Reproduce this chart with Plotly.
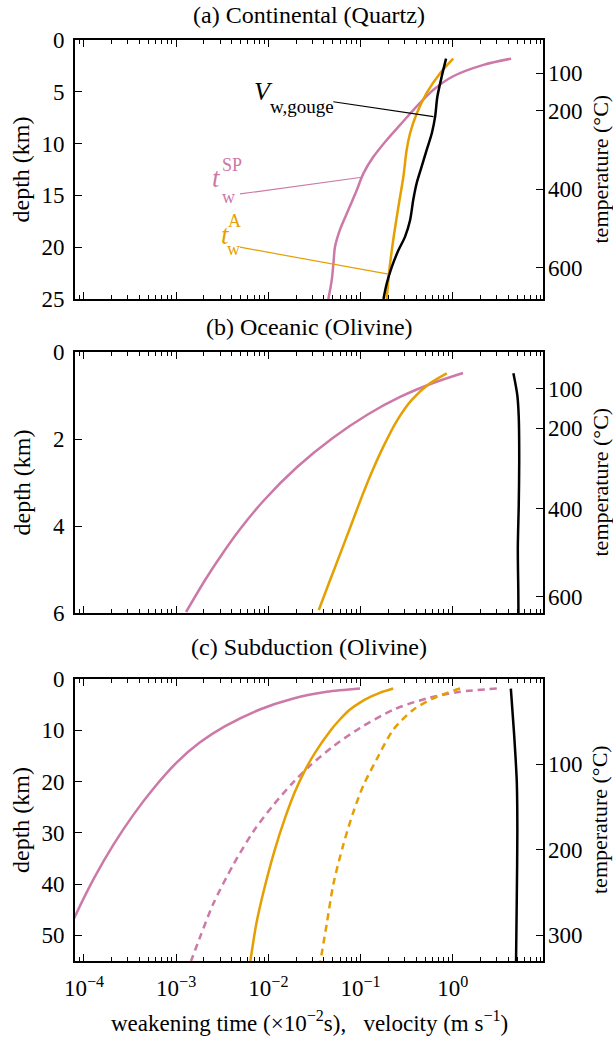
import plotly.graph_objects as go

FONT = "Liberation Serif, Times New Roman, Times, serif"
PINK = "#CC79A7"
ORANGE = "#E69F00"
BLACK = "#000000"

# ---------------- Panel (a) Continental (Quartz) ----------------
a_depth_sp = [1.8, 2.4, 3.5, 4.8, 6.4, 8.2, 9.65, 11.3, 12.9, 14.5, 16.4, 18.3, 19.95, 21.6, 23.2, 25.0]
a_tw_sp = [4.29, 2.15, 1.01, 0.617, 0.406, 0.268, 0.192, 0.137, 0.107, 0.0908, 0.0736, 0.0598, 0.0528, 0.0507, 0.0486, 0.0447]
a_depth_a = [1.8, 3.2, 5.1, 7.1, 9.0, 10.6, 13.2, 16.1, 19.3, 22.2, 25.0]
a_tw_a = [1.01, 0.728, 0.521, 0.406, 0.344, 0.316, 0.291, 0.257, 0.226, 0.205, 0.192]
a_depth_v = [1.8, 3.5, 5.5, 7.4, 9.0, 10.6, 12.2, 13.8, 15.4, 17.4, 19.0, 20.3, 21.9, 23.5, 25.0]
a_vw = [0.845, 0.759, 0.679, 0.643, 0.592, 0.521, 0.460, 0.406, 0.373, 0.344, 0.303, 0.257, 0.218, 0.192, 0.177]
a_temp_ticks = [100, 200, 400, 600]
a_temp_depths = [3.2, 6.8, 14.4, 22.0]

# ---------------- Panel (b) Oceanic (Olivine) ----------------
b_depth_sp = [0.483, 0.713, 1.034, 1.448, 1.977, 2.644, 3.402, 4.092, 4.621, 5.241, 5.977]
b_tw_sp = [1.29, 0.612, 0.268, 0.117, 0.0499, 0.0205, 0.00902, 0.00485, 0.00321, 0.00206, 0.00128]
b_depth_a = [0.49, 0.72, 1.1, 1.56, 2.17, 2.8, 3.4, 4.0, 4.63, 5.3, 5.93]
b_tw_a = [0.859, 0.566, 0.359, 0.251, 0.177, 0.130, 0.100, 0.0782, 0.0603, 0.0456, 0.0352]
b_depth_v = [0.49, 1.0, 1.5, 2.5, 3.5, 4.5, 5.5, 6.0]
b_vw = [4.54, 5.01, 5.19, 5.25, 5.19, 5.07, 5.13, 5.15]
b_temp_ticks = [100, 200, 400, 600]
b_temp_depths = [0.85, 1.75, 3.6, 5.63]

# ---------------- Panel (c) Subduction (Olivine) ----------------
c_depth_sp = [1.86, 2.5, 3.8, 6.0, 9.2, 12.4, 16.3, 21.4, 26.5, 32.3, 38.7, 46.1, 50.0, 55.0]
c_tw_sp = [0.0986, 0.0430, 0.0187, 0.00794, 0.00340, 0.00180, 0.00101, 0.000565, 0.000343, 0.000209, 0.000130, 0.0000809, 0.0000646, 0.0000495]
c_depth_sp2 = [1.86, 2.5, 3.8, 6.0, 9.55, 13.1, 16.9, 20.1, 24.6, 29.75, 36.2, 43.8, 50.3, 55.0]
c_tw_sp2 = [3.00, 1.20, 0.521, 0.226, 0.0986, 0.0507, 0.0283, 0.0187, 0.0113, 0.00687, 0.00417, 0.00253, 0.00182, 0.00145]
c_depth_a = [1.86, 2.7, 3.46, 4.6, 6.0, 8.0, 9.9, 14.4, 18.2, 22.1, 27.2, 33.6, 41.3, 47.7, 55.0]
c_tw_a = [0.226, 0.161, 0.129, 0.0984, 0.0762, 0.0589, 0.0479, 0.0320, 0.0243, 0.0193, 0.0151, 0.0116, 0.00891, 0.00741, 0.00638]
c_depth_a2 = [1.86, 3.46, 6.0, 9.9, 15.6, 20.8, 25.9, 32.3, 40.0, 47.7, 55.0]
c_tw_a2 = [1.20, 0.670, 0.373, 0.226, 0.150, 0.107, 0.0836, 0.0650, 0.0507, 0.0430, 0.0367]
c_depth_v = [1.86, 10.5, 20.1, 29.7, 42.6, 55.0]
c_vw = [4.26, 4.61, 4.94, 5.01, 4.94, 4.85]
c_temp_ticks = [100, 200, 300]
c_temp_depths = [16.6, 33.3, 50.0]

# annotation leader lines (data coords)
a_lead_v_x = [0.0506, 0.617]
a_lead_v_y = [5.96, 7.4]
a_lead_sp_x = [0.00493, 0.103]
a_lead_sp_y = [14.86, 13.25]
a_lead_a_x = [0.00493, 0.200]
a_lead_a_y = [20.0, 22.6]

x_major = [1e-4, 1e-3, 1e-2, 1e-1, 1]
x_major_text = ["10<sup>\u22124</sup>", "10<sup>\u22123</sup>", "10<sup>\u22122</sup>",
                "10<sup>\u22121</sup>", "10<sup>0</sup>"]
x_minor = [m * 10.0 ** e for e in range(-5, 1) for m in range(2, 10)]

# ---------------- layout geometry ----------------
W, H = 613, 1040
L, R = 75, 543
TOP, BOT = 40, 961
A_BOT, B_TOP, B_BOT, C_TOP = 299, 352, 613, 679
XR = [-4.097, 0.978]


def py2p(py):
    return (BOT - py) / (BOT - TOP)


def px2p(px):
    return (px - L) / (R - L)


fig = go.Figure()


def add(x, y, color, xa, ya, dash="solid", width=2.5, shape="spline"):
    fig.add_trace(go.Scatter(x=x, y=y, mode="lines",
                             line=dict(color=color, width=width, dash=dash, shape=shape,
                                       smoothing=0.8),
                             xaxis=xa, yaxis=ya, showlegend=False, hoverinfo="skip"))


# panel a
add(a_tw_sp, a_depth_sp, PINK, "x", "y")
add(a_tw_a, a_depth_a, ORANGE, "x", "y")
add(a_vw, a_depth_v, BLACK, "x", "y")
add(a_lead_v_x, a_lead_v_y, BLACK, "x", "y", width=1.2, shape="linear")
add(a_lead_sp_x, a_lead_sp_y, PINK, "x", "y", width=1.2, shape="linear")
add(a_lead_a_x, a_lead_a_y, ORANGE, "x", "y", width=1.2, shape="linear")
# panel b
add(b_tw_sp, b_depth_sp, PINK, "x2", "y2")
add(b_tw_a, b_depth_a, ORANGE, "x2", "y2")
add(b_vw, b_depth_v, BLACK, "x2", "y2")
# panel c
add(c_tw_sp, c_depth_sp, PINK, "x3", "y3")
add(c_tw_sp2, c_depth_sp2, PINK, "x3", "y3", dash="7px,5px")
add(c_tw_a, c_depth_a, ORANGE, "x3", "y3")
add(c_tw_a2, c_depth_a2, ORANGE, "x3", "y3", dash="7px,5px")
add(c_vw, c_depth_v, BLACK, "x3", "y3")

# invisible traces for right (temperature) axes
for ya, xa in (("y4", "x"), ("y5", "x2"), ("y6", "x3")):
    fig.add_trace(go.Scatter(x=[1], y=[0], mode="markers", marker=dict(opacity=0),
                             xaxis=xa, yaxis=ya, showlegend=False, hoverinfo="skip"))

tickfont = dict(family=FONT, size=23, color="black")


def xstyle(anchor, labels):
    return dict(type="log", range=XR, domain=[0, 1], anchor=anchor,
                showline=True, linecolor="black", linewidth=1.6, mirror="ticks",
                ticks="inside", ticklen=7, tickwidth=1.2, tickcolor="black",
                tickmode="array", tickvals=x_major, ticktext=x_major_text,
                showticklabels=labels, tickfont=tickfont, ticklabelstandoff=6,
                minor=dict(ticks="inside", ticklen=4, tickwidth=1, tickcolor="black",
                           tickmode="array", tickvals=x_minor, showgrid=False),
                showgrid=False, zeroline=False)


def ystyle(anchor, rng, dom, vals):
    return dict(range=rng, domain=dom, anchor=anchor, showline=True, linecolor="black",
                linewidth=1.6, mirror=True, ticks="inside", ticklen=7, tickwidth=1.2,
                tickcolor="black", tickmode="array", tickvals=vals, tickfont=tickfont,
                showgrid=False, zeroline=False, ticklabelstandoff=4)


def rstyle(over, anchor, rng, vals, text):
    return dict(range=rng, overlaying=over, side="right", anchor=anchor, showline=False,
                ticks="inside", ticklen=7, tickwidth=1.2, tickcolor="black",
                tickmode="array", tickvals=vals, ticktext=[str(t) for t in text],
                tickfont=tickfont, showgrid=False, zeroline=False, ticklabelstandoff=4)


dom_a = [py2p(A_BOT), 1.0]
dom_b = [py2p(B_BOT), py2p(B_TOP)]
dom_c = [0.0, py2p(C_TOP)]

fig.update_layout(
    width=W, height=H,
    margin=dict(l=L, r=W - R, t=TOP, b=H - BOT, pad=0),
    paper_bgcolor="white", plot_bgcolor="white",
    font=dict(family=FONT, size=23, color="black"),
    xaxis=xstyle("y", False),
    xaxis2=xstyle("y2", False),
    xaxis3=xstyle("y3", True),
    yaxis=ystyle("x", [25, 0], dom_a, [0, 5, 10, 15, 20, 25]),
    yaxis2=ystyle("x2", [6, 0], dom_b, [0, 2, 4, 6]),
    yaxis3=ystyle("x3", [55, 0], dom_c, [0, 10, 20, 30, 40, 50]),
    yaxis4=rstyle("y", "x", [25, 0], a_temp_depths, a_temp_ticks),
    yaxis5=rstyle("y2", "x2", [6, 0], b_temp_depths, b_temp_ticks),
    yaxis6=rstyle("y3", "x3", [55, 0], c_temp_depths, c_temp_ticks),
)

ann = []


def text(px, py, s, size=23, color="black", angle=0, xanchor="center"):
    ann.append(dict(x=px2p(px), y=py2p(py), xref="paper", yref="paper", text=s,
                    showarrow=False, textangle=angle, xanchor=xanchor, yanchor="middle",
                    font=dict(family=FONT, size=size, color=color)))


xc = (L + R) / 2
text(xc, 15, "(a) Continental (Quartz)", size=24)
text(xc, 327, "(b) Oceanic (Olivine)", size=24)
text(xc, 647, "(c) Subduction (Olivine)", size=24)

for cy in ((TOP + A_BOT) / 2, (B_TOP + B_BOT) / 2, (C_TOP + BOT) / 2):
    text(21, cy, "depth (km)", size=24, angle=-90)
    text(600, cy, "temperature (\u00b0C)", size=22, angle=-90)

text(xc, 1021, "weakening time (\u00d710<sup>\u22122</sup>s),\u00a0\u00a0\u00a0velocity (m s<sup>\u22121</sup>)", size=23)

# curve labels in panel a
text(263, 91, "<i>V</i>", size=26)
text(302, 106, "w,gouge", size=19)
text(216, 178, "<i>t</i>", size=27, color=PINK)
text(232, 165, "SP", size=18, color=PINK)
text(228, 197, "w", size=18, color=PINK)
text(225, 235, "<i>t</i>", size=27, color=ORANGE)
text(234, 221, "A", size=18, color=ORANGE)
text(233, 249, "w", size=18, color=ORANGE)

fig.update_layout(annotations=ann)
fig.write_html("out.html", config={"displayModeBar": False},
               post_script="document.body.style.margin='0';document.body.style.padding='0';")
